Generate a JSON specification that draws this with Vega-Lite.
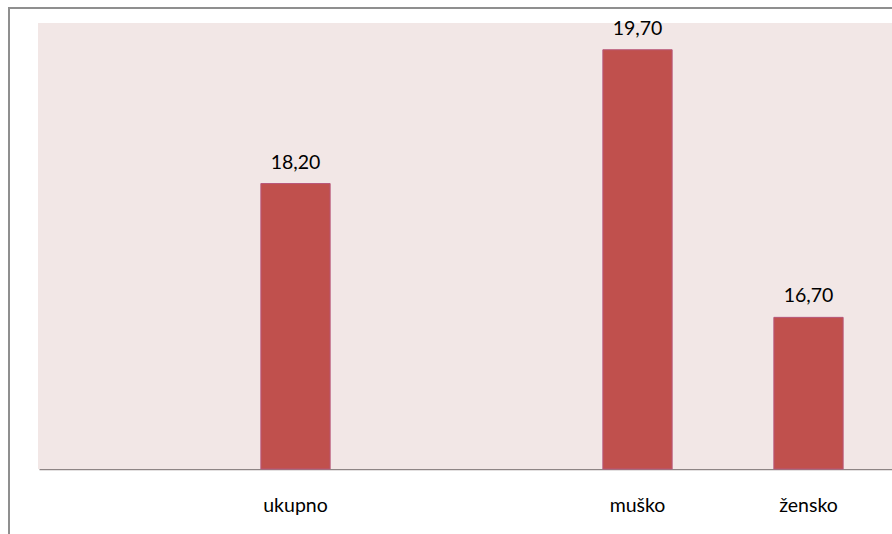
{
  "$schema": "https://vega.github.io/schema/vega-lite/v6.json",
  "width": 890,
  "height": 530,
  "autosize": {"type": "none"},
  "padding": {"left": 9, "top": 8, "right": 0, "bottom": 0},
  "background": "white",
  "config": {
    "view": {"stroke": "#8f8f8f", "strokeWidth": 2, "fill": "white"},
    "locale": {"number": {"decimal": ",", "thousands": ".", "grouping": [3], "currency": ["", ""]}},
    "font": "Lato"
  },
  "layer": [
    {
      "data": {"values": [{"bg": "plot", "lo": 15, "hi": 20}]},
      "mark": {"type": "rect", "color": "#F2E7E6"},
      "encoding": {
        "x": {"field": "bg", "type": "nominal", "axis": null, "scale": {"range": [29, 883], "paddingInner": 0, "paddingOuter": 0}},
        "y": {"field": "lo", "type": "quantitative", "scale": {"domain": [15, 20], "range": [461, 15], "zero": false, "nice": false}, "axis": null},
        "y2": {"field": "hi"}
      }
    },
    {
      "data": {"values": [
        {"kat": "ukupno", "vrijednost": 18.2},
        {"kat": "muško", "vrijednost": 19.7},
        {"kat": "žensko", "vrijednost": 16.7}
      ]},
      "encoding": {
        "x": {
          "field": "kat", "type": "nominal", "sort": null,
          "scale": {"domain": [" ", "ukupno", "  ", "muško", "žensko"], "range": [30, 885], "paddingInner": 0, "paddingOuter": 0},
          "axis": {
            "title": null, "orient": "bottom", "offset": -69,
            "domainColor": "#8e8585", "domainWidth": 1.5,
            "ticks": false, "tickSize": 0, "labelPadding": 42, "labelBaseline": "alphabetic",
            "labelFont": "Lato", "labelFontSize": 19.5, "labelColor": "#000000", "labelAngle": 0
          }
        },
        "y": {"field": "vrijednost", "type": "quantitative", "scale": {"domain": [15, 20], "range": [461, 15], "zero": false, "nice": false}, "axis": null}
      },
      "layer": [
        {
          "mark": {"type": "bar", "color": "#C0504D", "stroke": "#B8577A", "strokeWidth": 1, "width": {"band": 0.405}},
          "encoding": {"y2": {"datum": 15}}
        },
        {
          "mark": {"type": "text", "baseline": "alphabetic", "dy": -15, "fontSize": 19.5, "font": "Lato", "color": "#000000"},
          "encoding": {"text": {"field": "vrijednost", "type": "quantitative", "format": ".2f"}}
        }
      ]
    }
  ],
  "resolve": {"scale": {"x": "independent"}}
}
